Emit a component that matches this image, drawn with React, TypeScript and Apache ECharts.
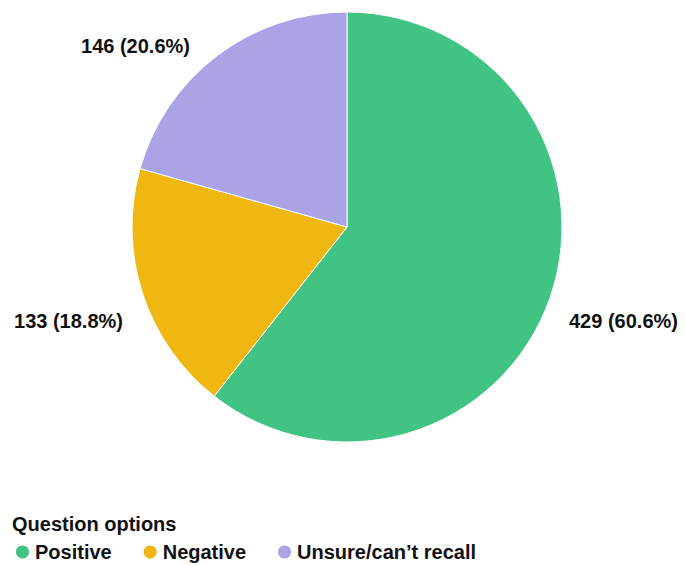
import React, { useEffect, useRef } from "react";
import * as echarts from "echarts";

const categories = ["Positive", "Negative", "Unsure/can’t recall"];
const counts = [429, 133, 146];
const percents = ["60.6%", "18.8%", "20.6%"];
const colors = ["#41c383", "#f0b712", "#aaa3e6"];

export default function App() {
  const ref = useRef<HTMLDivElement>(null);
  useEffect(() => {
    if (!ref.current) return;
    document.body.style.margin = "0";
    const chart = echarts.init(ref.current, null, { renderer: "svg" });
    const font = "Helvetica, Arial, 'Liberation Sans', sans-serif";
    const labelPos = [
      { x: 569, y: 321, align: "left" },
      { x: 123, y: 321, align: "right" },
      { x: 190, y: 46, align: "right" },
    ];
    chart.setOption({
      animation: false,
      backgroundColor: "#ffffff",
      title: {
        text: "Question options",
        left: 7,
        top: 509,
        textStyle: { fontFamily: font, fontSize: 20, fontWeight: "bold", color: "#111" },
      },
      legend: {
        left: 9,
        top: 537,
        icon: "circle",
        itemWidth: 15,
        itemHeight: 15,
        itemGap: 30,
        textStyle: { fontFamily: font, fontSize: 20, fontWeight: "bold", color: "#111" },
        data: categories,
      },
      series: [
        {
          type: "pie",
          center: [347, 227],
          radius: 215,
          startAngle: 90,
          clockwise: true,
          itemStyle: { borderColor: "#ffffff", borderWidth: 1 },
          label: {
            show: true,
            position: "outside",
            overflow: "none",
            fontFamily: font,
            fontSize: 20,
            fontWeight: "bold",
            color: "#111",
            formatter: (p: any) => `${counts[p.dataIndex]} (${percents[p.dataIndex]})`,
          },
          labelLine: { show: false },
          labelLayout: (p: any) => ({
            x: labelPos[p.dataIndex].x,
            y: labelPos[p.dataIndex].y,
            align: labelPos[p.dataIndex].align,
            verticalAlign: "middle",
          }),
          data: categories.map((c, i) => ({
            name: c,
            value: counts[i],
            itemStyle: { color: colors[i] },
          })),
        },
      ],
    });
    return () => chart.dispose();
  }, []);
  return <div ref={ref} style={{ width: 685, height: 565 }} />;
}
